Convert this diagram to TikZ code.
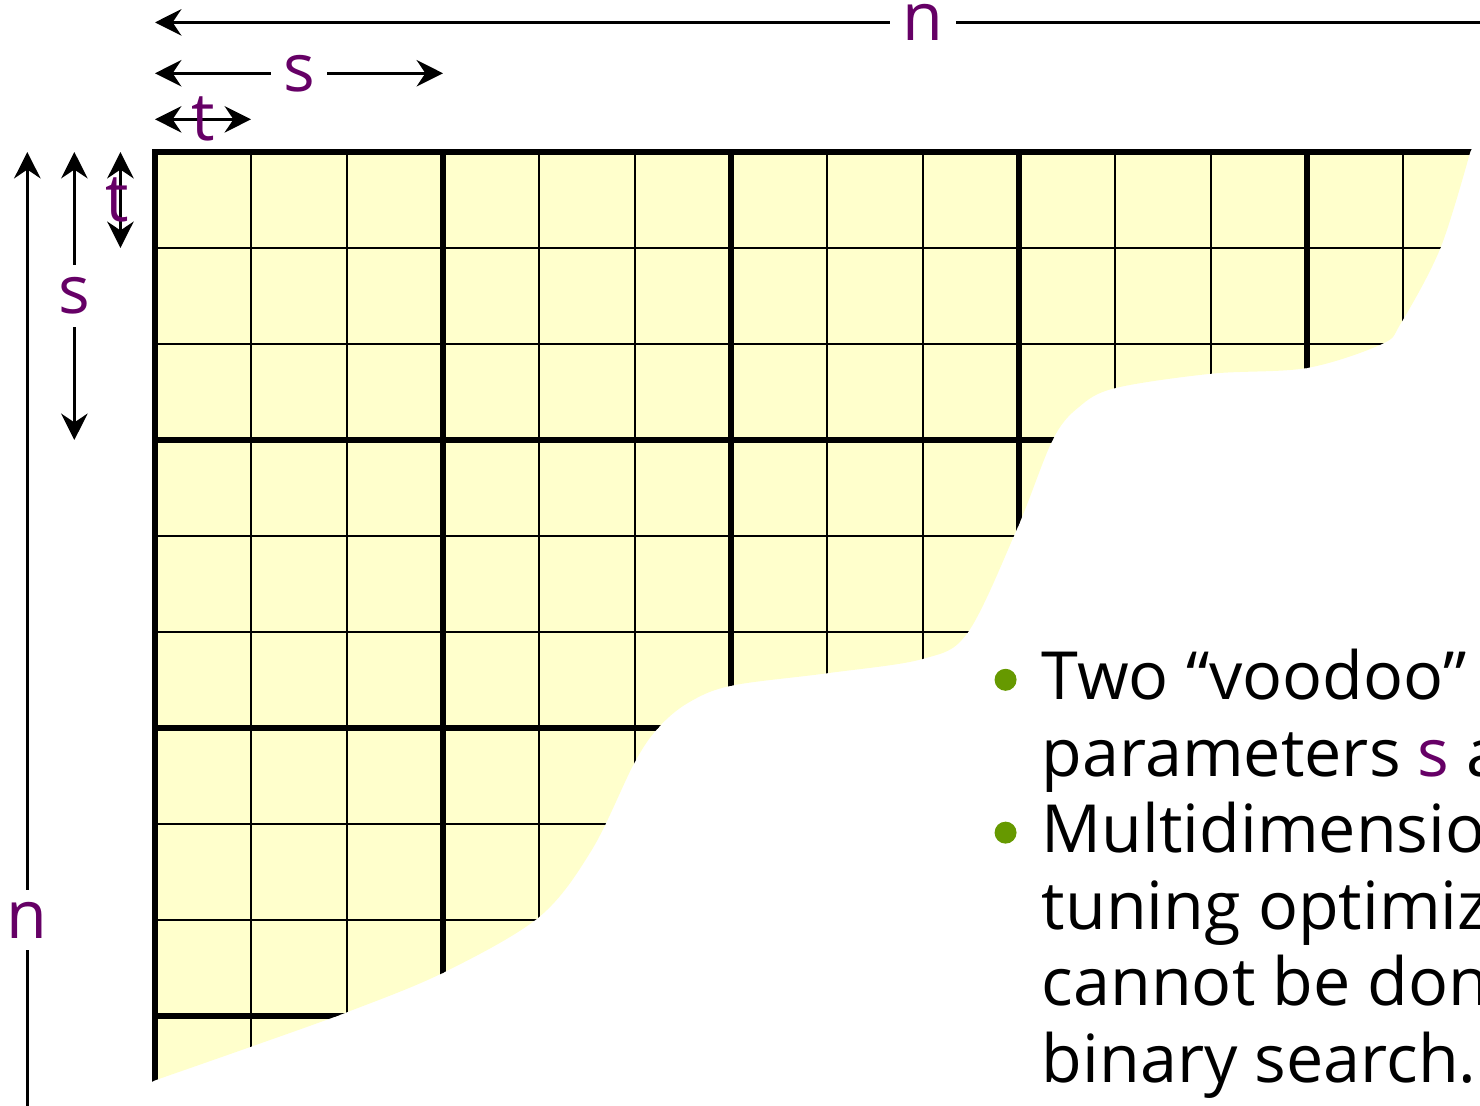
\documentclass[tikz,border=0pt]{standalone}
\usepackage{fontspec}
\setmainfont{Open Sans}
\usetikzlibrary{arrows.meta}
\definecolor{lblpurple}{HTML}{660066}
\definecolor{dotgreen}{HTML}{669900}
\definecolor{cellyellow}{HTML}{FFFFCC}

% lower edge of the computed part of the matrix
\def\wave{-- plot[smooth, tension=0.55] coordinates {
    (13.70,0) (13.39,1.0) (12.98,1.78) (12.78,2.0) (12.0,2.25)
    (11.0,2.31) (10.0,2.46) (9.62,2.66) (9.35,3.0) (8.99,3.9)
    (8.47,5.0) (8.0,5.28) (7.0,5.43) (6.0,5.56) (5.55,5.74)
    (5.24,6.0) (4.99,6.37) (4.55,7.27) (4.0,7.97) (3.0,8.55)
    (2.0,8.96) (1.0,9.32) (0,9.67)}}

\begin{document}
\begin{tikzpicture}[x=0.96cm, y=-0.96cm,
    every node/.style={font=\fontsize{18.9pt}{21.6pt}\selectfont},
    thinrule/.style={line width=0.65pt},
    thickrule/.style={line width=1.6pt, line cap=rect},
    dim/.style={{Stealth[length=7.5pt,width=7.5pt,inset=2.5pt]}-{Stealth[length=7.5pt,width=7.5pt,inset=2.5pt]},
                line width=0.95pt},
    lbl/.style={fill=white, inner sep=3.5pt, text=lblpurple},
    tlbl/.style={inner sep=0pt, text=lblpurple},
    bulletdot/.style={circle, fill=dotgreen, minimum size=0.22cm, inner sep=0pt},
    txtline/.style={anchor=base west, inner sep=0pt},
]
    \useasboundingbox (-1.6146,-1.5833) rectangle (13.802,9.9375);

    % filled cells
    \fill[cellyellow] (0,0) -- (13.70,0) \wave -- cycle;

    % tile grid, every third line thick
    \begin{scope}
        \clip (-0.1,-0.1) -- (13.75,-0.1) -- (13.70,0) \wave -- (-0.1,9.72) -- cycle;
        \foreach \k in {1,...,16} {
            \draw[thinrule] (\k,0) -- (\k,16);
            \draw[thinrule] (0,\k) -- (16,\k);
        }
        \foreach \k in {0,3,...,15} {
            \draw[thickrule] (\k,0) -- (\k,16);
            \draw[thickrule] (0,\k) -- (16,\k);
        }
    \end{scope}

    % sizes along the top
    \coordinate (hn0) at (0,-1.35);
    \coordinate (hn1) at (16,-1.35);
    \coordinate (hs0) at (0,-0.82);
    \coordinate (hs1) at (3,-0.82);
    \coordinate (ht0) at (0,-0.34);
    \coordinate (ht1) at (1,-0.34);
    \draw[dim] (hn0) -- node[lbl] (nh) {n} (hn1);
    \draw[dim] (hs0) -- node[lbl] (sh) {s} (hs1);
    \draw[dim] (ht0) -- node[tlbl] (th) {t} (ht1);

    % sizes along the left side
    \coordinate (vn0) at (-1.33,0);
    \coordinate (vn1) at (-1.33,16);
    \coordinate (vs0) at (-0.84,0);
    \coordinate (vs1) at (-0.84,3);
    \coordinate (vt0) at (-0.36,0);
    \coordinate (vt1) at (-0.36,1);
    \draw[dim] (vn0) -- node[lbl] (nv) {n} (vn1);
    \draw[dim] (vs0) -- node[lbl] (sv) {s} (vs1);
    \draw[dim] (vt0) -- node[tlbl, xshift=-1pt] (tv) {t} (vt1);

    % notes
    \foreach \txt [count=\i from 0] in {Two “voodoo”, {parameters \textcolor{lblpurple}{s} a},
            Multidimensio, tuning optimiz, cannot be don, binary search.}
        \node[txtline] (l\i) at (9.23,{5.708+0.796*\i}) {\txt};
    \node[bulletdot] (b1) at ([shift={(-0.37,-0.21)}]l0.base west) {};
    \node[bulletdot] (b2) at ([shift={(-0.37,-0.21)}]l2.base west) {};
\end{tikzpicture}
\end{document}
